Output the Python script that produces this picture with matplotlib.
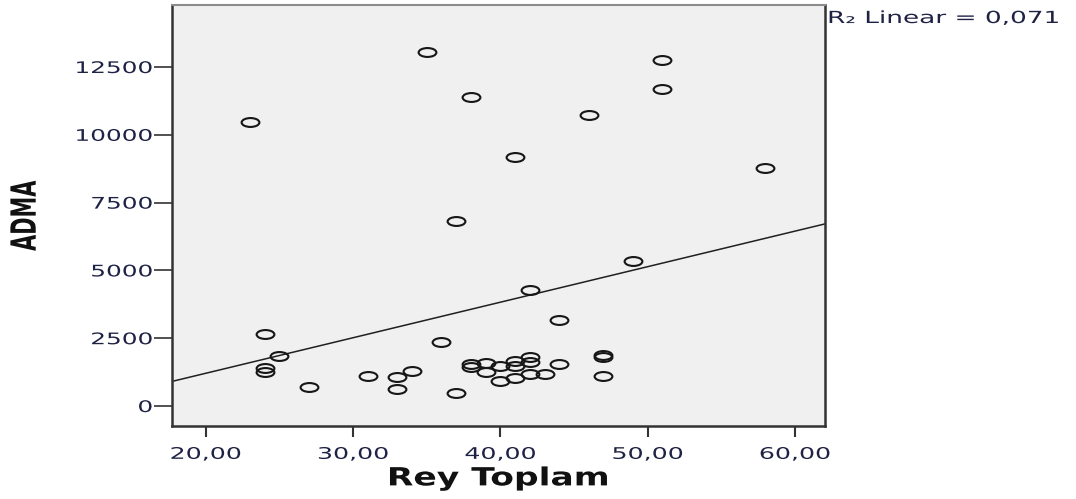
import numpy as np
import matplotlib
matplotlib.use("Agg")
import matplotlib.pyplot as plt
from matplotlib.path import Path
from matplotlib.markers import MarkerStyle
from matplotlib.transforms import Affine2D
from matplotlib import patheffects

# Rey Toplam vs ADMA
rey = [23, 24, 24, 24, 25, 27, 31, 33, 33, 34,
       35, 36, 37, 37, 38, 38, 38, 39, 39, 40,
       40, 41, 41, 41, 41, 42, 42, 42, 42, 43,
       44, 44, 46, 47, 47, 47, 49, 51, 51, 58]
adma = [10470, 2655, 1390, 1265, 1860, 712, 1117, 1081, 627, 1302,
        13040, 2370, 6820, 490, 11400, 1540, 1440, 1574, 1265, 1486,
        922, 9180, 1670, 1475, 1021, 4277, 1794, 1634, 1180, 1175,
        3171, 1560, 10730, 1880, 1800, 1117, 5347, 12760, 11680, 8787]
x_ticks = [20, 30, 40, 50, 60]
y_ticks = [0, 2500, 5000, 7500, 10000, 12500]
r2_text = "R\u2082 Linear = 0,071"


class Stretch(patheffects.AbstractPathEffect):
    # squeeze/widen text along its own baseline, around left/center/right
    def __init__(self, sx, anchor="center"):
        super().__init__()
        self.sx = sx
        self.anchor = anchor

    def draw_path(self, renderer, gc, tpath, affine, rgbFace=None):
        ext = tpath.get_extents()
        a = {"left": ext.x0, "right": ext.x1}.get(self.anchor, (ext.x0 + ext.x1) / 2)
        t = Affine2D().translate(-a, 0).scale(self.sx, 1).translate(a, 0)
        renderer.draw_path(gc, tpath, t + affine, rgbFace)


x = np.array(rey, dtype=float)
y = np.array(adma, dtype=float)
slope, intercept = np.polyfit(x, y, 1)

# wide ellipse marker, the source picture is stretched sideways
circ = Path.unit_circle()
ell = Path(circ.vertices * np.array([1.0, 0.5]), circ.codes)

fig = plt.figure(figsize=(10.76, 4.99), dpi=100)
ax = fig.add_axes([172 / 1076, 73 / 499, 653 / 1076, 420.7 / 499])
ax.set_facecolor("#f0f0f0")

xmin, xmax = 17.71, 62.04
ax.set_xlim(xmin, xmax)
ax.set_ylim(-737, 14775)

xl = np.array([xmin, xmax])
ax.plot(xl, intercept + slope * xl, color="#202020", lw=1.1, zorder=2)
ax.plot(x, y, linestyle="none", marker=MarkerStyle(ell), markersize=12.8,
        markerfacecolor="none", markeredgecolor="#161616",
        markeredgewidth=1.5, zorder=3)

ax.set_xticks(x_ticks)
ax.set_xticklabels([f"{v},00" for v in x_ticks])
ax.set_yticks(y_ticks)
ax.set_yticklabels([str(v) for v in y_ticks])

lab = "#1e2244"
ax.tick_params(axis="y", direction="out", length=13, width=1.2,
               pad=1, labelsize=11.5, labelcolor=lab, color="#333333")
ax.tick_params(axis="x", direction="out", length=8, width=1.5,
               pad=7, labelsize=11.5, labelcolor=lab, color="#333333")
for t in ax.get_yticklabels():
    t.set_path_effects([Stretch(1.55, "right")])
for t in ax.get_xticklabels():
    t.set_path_effects([Stretch(1.58, "center")])

for side in ["left", "bottom", "right"]:
    ax.spines[side].set_color("#333333")
    ax.spines[side].set_linewidth(1.8)
ax.spines["top"].set_color("#8c8c8c")
ax.spines["top"].set_linewidth(1.5)

xlab = ax.set_xlabel("Rey Toplam", fontsize=18, fontweight="bold", color="#111111")
xlab.set_path_effects([Stretch(1.38, "center")])
ax.xaxis.set_label_coords(0.5, -0.096)
ylab = ax.set_ylabel("ADMA", fontsize=25, fontweight="bold", color="#111111")
ylab.set_path_effects([Stretch(0.6, "center")])
ax.yaxis.set_label_coords(-0.198, 0.5)

r2 = fig.text(828 / 1076, 1 - 18 / 499, r2_text, ha="left", va="center",
              fontsize=12, color=lab)
r2.set_path_effects([Stretch(1.58, "left")])

fig.savefig("out.png", dpi=100)
